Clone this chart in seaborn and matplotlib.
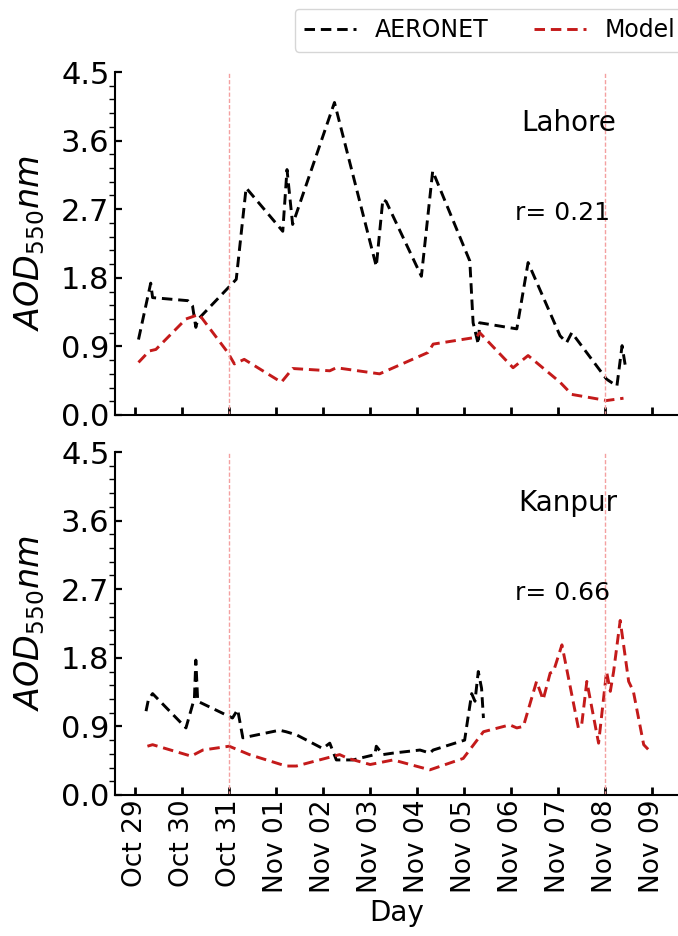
import numpy as np
import pandas as pd
import matplotlib
matplotlib.use("Agg")
import matplotlib.pyplot as plt
import matplotlib.dates as mdates
from matplotlib.ticker import AutoMinorLocator
import seaborn as sns

sns.set_style("ticks")
plt.rcParams['font.family'] = ['DejaVu Sans']
plt.rcParams.update({
    "text.color": "black", "axes.labelcolor": "black",
    "xtick.color": "black", "ytick.color": "black", "axes.edgecolor": "black",
})

# ---- data (day offsets from Oct 29, AOD values) ----
lahore_obs_t = [0.07, 0.33, 0.37, 1.12, 1.22, 1.29, 1.33, 2.15, 2.36, 3.14, 3.23, 3.35, 4.24,
                5.13, 5.27, 5.34, 6.09, 6.33, 7.12, 7.19, 7.30, 7.33, 8.12, 8.36, 9.04, 9.18,
                9.29, 10.03, 10.25, 10.36, 10.43]
lahore_obs = [0.99, 1.73, 1.54, 1.50, 1.43, 1.15, 1.25, 1.78, 2.98, 2.41, 3.22, 2.50, 4.10,
              1.95, 2.83, 2.80, 1.82, 3.20, 2.02, 1.21, 0.93, 1.21, 1.13, 2.00, 1.04, 0.95,
              1.08, 0.47, 0.38, 0.91, 0.64]
lahore_mod_t = [0.07, 0.30, 0.44, 1.08, 1.36, 1.97, 2.11, 2.32, 3.11, 3.35, 4.14, 4.28, 5.20,
                6.23, 6.34, 7.26, 7.33, 8.04, 8.36, 9.04, 9.29, 10.03, 10.39]
lahore_mod = [0.69, 0.84, 0.86, 1.26, 1.32, 0.82, 0.67, 0.73, 0.43, 0.61, 0.58, 0.62, 0.54,
              0.82, 0.93, 1.02, 1.08, 0.62, 0.78, 0.43, 0.27, 0.19, 0.22]

kanpur_obs_t = [0.23, 0.28, 0.37, 1.08, 1.26, 1.29, 1.33, 2.07, 2.18, 2.29, 3.07, 3.21, 3.43,
                3.99, 4.14, 4.28, 4.63, 5.10, 5.13, 5.27, 5.49, 6.06, 6.27, 6.34, 7.01, 7.08,
                7.16, 7.23, 7.30, 7.37, 7.41]
kanpur_obs = [1.10, 1.25, 1.33, 0.88, 1.27, 1.77, 1.23, 1.01, 1.12, 0.75, 0.85, 0.83, 0.79,
              0.61, 0.68, 0.46, 0.46, 0.53, 0.64, 0.53, 0.55, 0.59, 0.55, 0.59, 0.72, 1.01,
              1.33, 1.23, 1.62, 1.40, 1.01]
kanpur_mod_t = [0.26, 0.37, 1.19, 1.44, 2.00, 2.43, 3.21, 3.43, 4.35, 4.53, 5.00, 5.49, 6.27,
                6.98, 7.41, 7.97, 8.12, 8.26, 8.54, 8.68, 8.83, 8.90, 9.08, 9.43, 9.50, 9.61,
                9.86, 10.03, 10.11, 10.18, 10.32, 10.50, 10.60, 10.82, 10.96]
kanpur_mod = [0.64, 0.66, 0.51, 0.59, 0.64, 0.53, 0.38, 0.38, 0.53, 0.48, 0.40, 0.46, 0.33,
              0.48, 0.83, 0.92, 0.88, 0.90, 1.49, 1.25, 1.60, 1.62, 1.97, 0.88, 0.92, 1.49,
              0.68, 1.62, 1.36, 1.62, 2.29, 1.49, 1.36, 0.66, 0.57]

stations = ["Lahore", "Kanpur"]
r_values = ["0.21", "0.66"]
event_days = ["2017-10-31", "2017-11-08"]
base = pd.Timestamp("2017-10-29")
y_ticks = [0.0, 0.9, 1.8, 2.7, 3.6, 4.5]


def to_dates(t):
    return base + pd.to_timedelta(np.array(t), unit="D")


series = [
    (lahore_obs_t, lahore_obs, lahore_mod_t, lahore_mod),
    (kanpur_obs_t, kanpur_obs, kanpur_mod_t, kanpur_mod),
]

fig = plt.figure(figsize=(6.78, 9.36), dpi=100)
W, H = 678, 936
left = 115 / W
width = 1.0 - left
axes = [
    fig.add_axes([left, 1 - 415 / H, width, (415 - 72) / H]),
    fig.add_axes([left, 1 - 795 / H, width, (795 - 452) / H]),
]

xmin = base - pd.Timedelta(days=0.43)
xmax = base + pd.Timedelta(days=11.55)
dash = (0, (3.6, 2.0))

for i, ax in enumerate(axes):
    ot, ov, mt, mv = series[i]
    sns.lineplot(x=to_dates(ot), y=ov, ax=ax, color="black", linestyle=dash,
                 linewidth=2.1, label="AERONET", legend=False)
    sns.lineplot(x=to_dates(mt), y=mv, ax=ax, color="#c41a1a", linestyle=dash,
                 linewidth=2.1, label="Model", legend=False)
    for d in event_days:
        ax.axvline(pd.Timestamp(d), color="#f4a0a0", linestyle=(0, (3, 1.5)), linewidth=1.0)
    ax.set_xlim(xmin, xmax)
    ax.set_ylim(0, 4.5)
    ax.set_yticks(y_ticks)
    ax.set_yticklabels([f"{v:.1f}" for v in y_ticks])
    ax.yaxis.set_minor_locator(AutoMinorLocator(5))
    ax.xaxis.set_major_locator(mdates.DayLocator())
    ax.xaxis.set_major_formatter(mdates.DateFormatter("%b %d"))
    ax.tick_params(axis="y", which="major", direction="in", length=5, width=1.6,
                   labelsize=22, pad=4)
    ax.tick_params(axis="y", which="minor", direction="out", length=4, width=1.0)
    ax.tick_params(axis="x", which="major", direction="in", length=6, width=2.0,
                   labelsize=19, rotation=90)
    for s in ["top", "right"]:
        ax.spines[s].set_visible(False)
    for s in ["left", "bottom"]:
        ax.spines[s].set_linewidth(1.5)
    ax.set_ylabel(r"$AOD_{550}nm$", fontsize=24, labelpad=10)
    ax.text(0.805, 0.85, stations[i], transform=ax.transAxes, fontsize=20,
            ha="center", va="center")
    ax.text(0.795, 0.588, f"r= {r_values[i]}", transform=ax.transAxes, fontsize=18,
            ha="center", va="center")

axes[0].tick_params(axis="x", labelbottom=False)
axes[0].set_xlabel("")
axes[1].set_xlabel("Day", fontsize=20)

handles, labels = axes[0].get_legend_handles_labels()
fig.legend(handles, labels, ncol=2, loc="upper left",
           bbox_to_anchor=(290 / W, 1 - 4 / H), fontsize=17, frameon=True,
           edgecolor="#cccccc", fancybox=True, columnspacing=1.9, handlelength=2.2,
           borderaxespad=0.2)

fig.savefig("out.png", dpi=100)
